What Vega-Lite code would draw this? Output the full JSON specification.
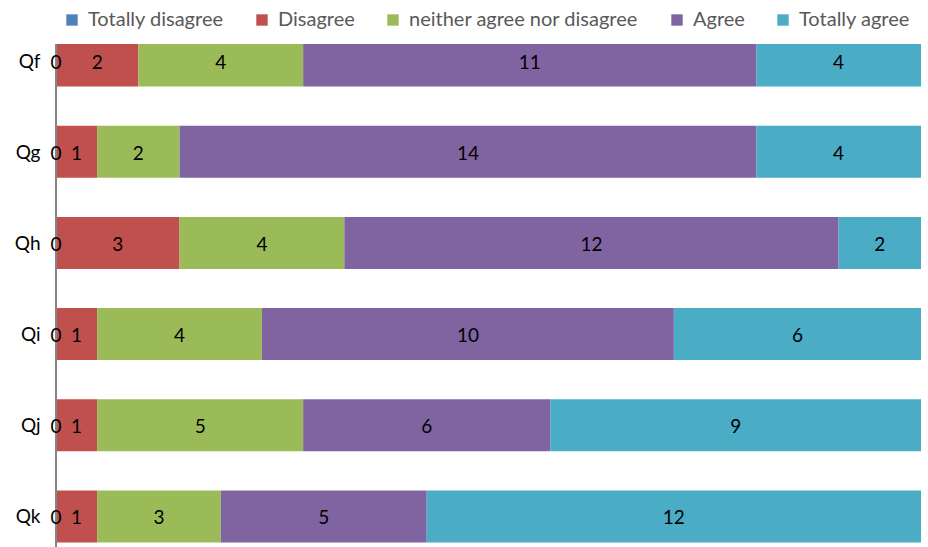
{
  "$schema": "https://vega.github.io/schema/vega-lite/v6.json",
  "width": 865,
  "height": 503,
  "autosize": {"type": "none"},
  "padding": {"left": 56, "top": 44, "right": 7, "bottom": 0},
  "background": "white",
  "config": {"view": {"stroke": null}, "font": "Lato"},
  "data": {
    "values": [
      {"q": "Qf", "Totally disagree": 0, "Disagree": 2, "neither agree nor disagree": 4, "Agree": 11, "Totally agree": 4},
      {"q": "Qg", "Totally disagree": 0, "Disagree": 1, "neither agree nor disagree": 2, "Agree": 14, "Totally agree": 4},
      {"q": "Qh", "Totally disagree": 0, "Disagree": 3, "neither agree nor disagree": 4, "Agree": 12, "Totally agree": 2},
      {"q": "Qi", "Totally disagree": 0, "Disagree": 1, "neither agree nor disagree": 4, "Agree": 10, "Totally agree": 6},
      {"q": "Qj", "Totally disagree": 0, "Disagree": 1, "neither agree nor disagree": 5, "Agree": 6, "Totally agree": 9},
      {"q": "Qk", "Totally disagree": 0, "Disagree": 1, "neither agree nor disagree": 3, "Agree": 5, "Totally agree": 12}
    ]
  },
  "transform": [
    {"fold": ["Totally disagree", "Disagree", "neither agree nor disagree", "Agree", "Totally agree"], "as": ["category", "count"]},
    {"stack": "count", "groupby": ["q"], "as": ["s0", "s1"]}
  ],
  "layer": [
    {
      "mark": {"type": "bar", "clip": true},
      "encoding": {
        "y": {
          "field": "q", "type": "nominal", "sort": null,
          "scale": {"range": [-29, 518], "paddingInner": 0.43, "paddingOuter": 0.215},
          "axis": {"title": null, "domain": false, "ticks": false, "labelFontSize": 19, "labelColor": "black", "labelPadding": 16, "labelBaseline": "middle", "labelOffset": 1}
        },
        "x": {"field": "s0", "type": "quantitative", "scale": {"domain": [0, 21], "nice": false}, "axis": null},
        "x2": {"field": "s1"},
        "color": {
          "field": "category", "type": "nominal",
          "scale": {
            "domain": ["Totally disagree", "Disagree", "neither agree nor disagree", "Agree", "Totally agree"],
            "range": ["#4F81BD", "#C0504D", "#9BBB59", "#8064A2", "#4BACC6"]
          },
          "legend": {
            "title": null, "orient": "none", "legendX": 6, "legendY": -34,
            "direction": "horizontal", "columns": 5,
            "symbolType": "square", "symbolSize": 130, "symbolStrokeWidth": 0, "symbolOpacity": 1,
            "labelFontSize": 20, "labelColor": "#595959", "labelOffset": 6, "columnPadding": 28,
            "labelLimit": 400
          }
        }
      }
    },
    {
      "mark": {"type": "rule", "color": "#868686", "strokeWidth": 1},
      "encoding": {"x": {"datum": 0, "type": "quantitative"}}
    },
    {
      "transform": [{"fold": ["s0", "s1"], "as": ["edge", "pos"]}],
      "mark": {"type": "text", "fontSize": 19, "color": "black", "baseline": "middle", "align": "center", "dy": 2},
      "encoding": {
        "y": {"field": "q", "type": "nominal", "sort": null},
        "x": {"field": "pos", "type": "quantitative", "aggregate": "mean"},
        "detail": {"field": "category"},
        "text": {"field": "count", "type": "quantitative", "aggregate": "min"}
      }
    }
  ]
}
